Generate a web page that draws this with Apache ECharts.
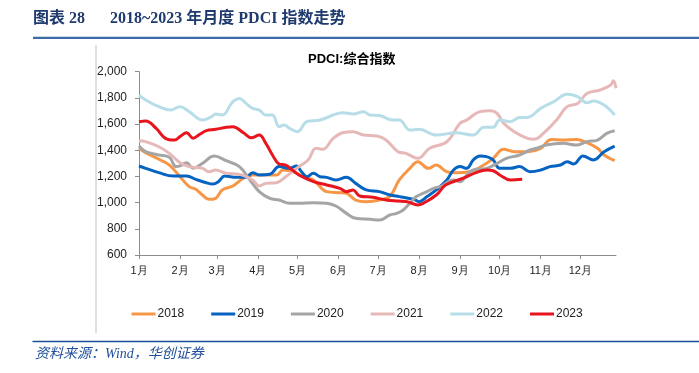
<!DOCTYPE html>
<html><head><meta charset="utf-8">
<script src="https://cdn.jsdelivr.net/npm/echarts@6/dist/echarts.min.js"></script>
<style>html,body{margin:0;padding:0;background:#fff}#c{width:699px;height:373px}</style>
</head><body><div id="c"></div>
<script>
const monthDays = [0,31,59,90,120,151,181,212,243,273,304,334];
const monthLabels = ['1月','2月','3月','4月','5月','6月','7月','8月','9月','10月','11月','12月'];
const years = ['2018','2019','2020','2021','2022','2023'];
const yTicks = {min:600, max:2000, step:200};

// [day of year, index value]
const s2018 = [[0,1415],[5,1382],[15,1331],[23,1287],[31,1198],[38,1122],[43,1102],[48,1058],[53,1025],[58,1033],[63,1097],[71,1127],[79,1186],[86,1211],[96,1211],[104,1211],[109,1249],[117,1236],[124,1198],[132,1173],[142,1084],[152,1076],[157,1071],[164,1020],[172,1007],[182,1020],[190,1050],[197,1173],[205,1262],[211,1313],[219,1262],[225,1287],[233,1236],[240,1229],[250,1236],[261,1287],[268,1338],[276,1407],[284,1389],[294,1389],[304,1415],[312,1483],[321,1478],[331,1483],[339,1458],[347,1415],[352,1364],[360,1320]];
const s2019 = [[0,1280],[5,1262],[15,1229],[26,1203],[36,1203],[43,1178],[51,1152],[56,1142],[60,1160],[65,1203],[74,1193],[81,1193],[86,1229],[91,1211],[99,1216],[106,1275],[114,1262],[119,1280],[123,1236],[127,1198],[132,1224],[137,1198],[142,1193],[149,1173],[157,1193],[164,1147],[172,1097],[182,1084],[190,1058],[197,1046],[208,1025],[212,1007],[218,1046],[225,1097],[233,1173],[238,1249],[243,1275],[248,1262],[253,1326],[258,1356],[263,1351],[268,1326],[273,1262],[281,1262],[288,1275],[296,1236],[304,1249],[311,1275],[319,1287],[324,1313],[329,1295],[336,1356],[344,1326],[352,1389],[360,1432]];
const s2020 = [[0,1432],[5,1389],[15,1364],[23,1346],[28,1275],[31,1280],[36,1305],[41,1262],[48,1300],[57,1356],[66,1320],[76,1275],[84,1173],[91,1084],[99,1033],[106,1020],[114,995],[121,995],[132,1000],[142,995],[149,974],[157,918],[164,880],[175,873],[182,867],[190,906],[195,918],[200,944],[205,995],[210,1046],[218,1084],[223,1109],[228,1122],[238,1173],[243,1160],[248,1211],[253,1249],[263,1262],[271,1300],[278,1338],[288,1364],[296,1402],[301,1415],[308,1440],[321,1453],[331,1440],[339,1466],[347,1478],[354,1529],[360,1549]];
const s2021 = [[0,1473],[5,1466],[15,1427],[23,1376],[31,1305],[38,1275],[48,1262],[53,1236],[58,1249],[66,1224],[76,1216],[86,1173],[91,1127],[96,1147],[104,1152],[111,1198],[121,1275],[128,1326],[134,1415],[139,1407],[147,1491],[154,1534],[162,1542],[170,1516],[180,1509],[187,1478],[196,1389],[202,1376],[211,1338],[220,1415],[233,1465],[243,1606],[248,1631],[258,1695],[266,1702],[271,1682],[276,1606],[284,1542],[294,1491],[299,1484],[306,1529],[316,1631],[324,1733],[332,1758],[339,1834],[349,1860],[357,1898],[359,1931],[361,1873]];
const s2022 = [[0,1822],[5,1784],[15,1733],[24,1707],[31,1733],[38,1695],[48,1631],[55,1656],[58,1677],[63,1669],[71,1771],[76,1796],[81,1758],[86,1720],[91,1707],[96,1669],[101,1669],[106,1580],[110,1593],[114,1567],[120,1542],[127,1618],[137,1631],[147,1669],[154,1687],[162,1677],[170,1695],[175,1669],[182,1665],[192,1631],[197,1631],[205,1555],[212,1560],[225,1516],[240,1534],[253,1516],[261,1575],[268,1575],[273,1631],[281,1618],[288,1651],[294,1651],[304,1720],[314,1771],[324,1827],[332,1809],[339,1763],[344,1776],[352,1745],[360,1669]];
const s2023 = [[0,1618],[5,1623],[13,1567],[20,1491],[27,1478],[31,1504],[36,1534],[41,1491],[46,1522],[51,1550],[58,1560],[66,1575],[71,1580],[79,1534],[85,1496],[91,1516],[96,1453],[101,1364],[106,1295],[111,1287],[116,1249],[121,1211],[132,1160],[142,1135],[152,1109],[157,1084],[162,1097],[167,1051],[177,1041],[187,1020],[196,1012],[203,1007],[211,982],[215,994],[225,1058],[232,1134],[245,1185],[255,1229],[263,1249],[268,1244],[273,1211],[281,1173],[290,1178]];

const seriesData = [s2018,s2019,s2020,s2021,s2022,s2023];
const colors = ['#F79646','#0563C1','#A5A5A5','#E6B9B8','#B7DEE8','#E8141E'];

const chart = echarts.init(document.getElementById('c'), null, {renderer:'canvas'});
chart.setOption({
  animation:false,
  backgroundColor:'#fff',
  color: colors,
  title:[{
    text:'PDCI:综合指数', left:308, top:53, padding:0,
    textStyle:{fontSize:13, fontWeight:'bold', color:'#000', fontFamily:'Liberation Sans, Arial, Noto Sans CJK SC'}
  }],
  graphic:[
    {type:'text', left:33, top:11, style:{text:'图表 28', font:'bold 16px "Liberation Serif", "Noto Sans CJK SC", serif', fill:'#1F3A6E'}},
    {type:'text', left:110, top:11, style:{text:'2018~2023 年月度 PDCI 指数走势', font:'bold 16px "Liberation Serif", "Noto Sans CJK SC", serif', fill:'#1F3A6E'}},
    {type:'rect', shape:{x:33, y:36.7, width:666, height:2.4}, style:{fill:'#3E6CA8'}},
    {type:'line', shape:{x1:96, y1:45, x2:96, y2:333}, style:{stroke:'#BFBFBF', lineWidth:1}},
    {type:'rect', shape:{x:32.5, y:340.8, width:667, height:1.5}, style:{fill:'#1F4E9A'}},
    {type:'text', left:35, top:347, style:{text:'资料来源：Wind，华创证券', font:'italic 14px "Liberation Serif", "Noto Sans CJK SC", serif', fill:'#1F4E9A'}}
  ],
  legend:{
    left:131.5, top:308, padding:0, itemWidth:24, itemHeight:3, itemGap:27, icon:'rect',
    textStyle:{fontSize:12, color:'#222', padding:[0,0,0,-3], fontFamily:'Liberation Sans, Arial'},
    data: years
  },
  grid:{left:139, right:83, top:71.7, bottom:118, containLabel:false},
  xAxis:{
    type:'value', min:0, max:361,
    axisLine:{show:true, lineStyle:{color:'#8C8C8C', width:1}},
    axisTick:{show:true, length:4, lineStyle:{color:'#8C8C8C'}, customValues: monthDays},
    axisLabel:{customValues: monthDays, margin:10, fontSize:11, color:'#222', fontFamily:'Liberation Sans, Arial',
      formatter:(v)=>{const i=monthDays.indexOf(Math.round(v)); return i>=0?monthLabels[i]:'';}},
    splitLine:{show:false}
  },
  yAxis:{
    type:'value', min:yTicks.min, max:yTicks.max, interval:yTicks.step,
    axisLine:{show:true, lineStyle:{color:'#8C8C8C', width:1}},
    axisTick:{show:true, length:4, lineStyle:{color:'#8C8C8C'}},
    axisLabel:{margin:12, fontSize:12, color:'#222', fontFamily:'Liberation Sans, Arial',
      formatter:(v)=>v.toLocaleString('en-US')},
    splitLine:{show:false}
  },
  series: years.map((y,i)=>({
    name:y, type:'line', data:seriesData[i], smooth:0.4, showSymbol:false,
    lineStyle:{width:3, color:colors[i]}, itemStyle:{color:colors[i]}, z: i===5?5:2
  }))
});
</script></body></html>
